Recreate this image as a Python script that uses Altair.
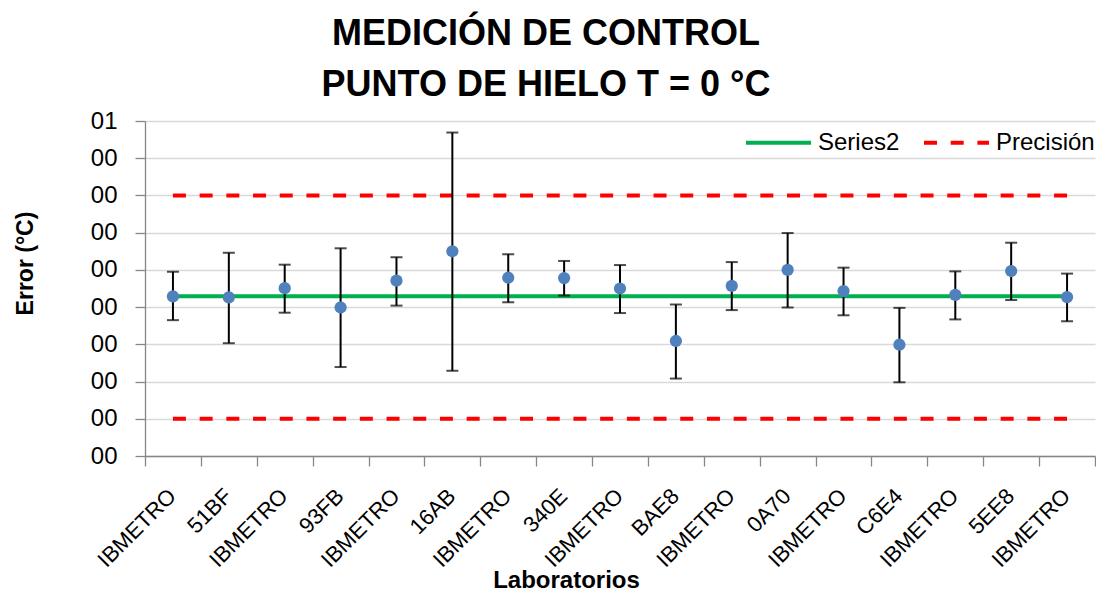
import json
import altair as alt
import pandas as pd

# ---- data ----
LABS = ["IBMETRO", "51BF", "IBMETRO", "93FB", "IBMETRO", "16AB", "IBMETRO", "340E",
        "IBMETRO", "BAE8", "IBMETRO", "0A70", "IBMETRO", "C6E4", "IBMETRO", "5EE8", "IBMETRO"]
ERROR = [0.0029, 0.0026, 0.0051, -0.0001, 0.0071, 0.0150, 0.0079, 0.0078, 0.0050,
         -0.0091, 0.0057, 0.0100, 0.0043, -0.0101, 0.0033, 0.0097, 0.0027]
UPPER = [0.0095, 0.0146, 0.0114, 0.0158, 0.0134, 0.0469, 0.0142, 0.0124, 0.0113,
         0.0007, 0.0121, 0.0199, 0.0106, -0.0002, 0.0096, 0.0173, 0.0090]
LOWER = [-0.0035, -0.0097, -0.0015, -0.0161, 0.0004, -0.0171, 0.0013, 0.0031, -0.0016,
         -0.0192, -0.0008, -0.0001, -0.0022, -0.0202, -0.0033, 0.0019, -0.0038]
MEAN_ERROR = 0.0029
PRECISION = 0.03
Y_TICKS = [-0.04, -0.03, -0.02, -0.01, 0.0, 0.01, 0.02, 0.03, 0.04, 0.05]
Y_TICK_LABELS = ["00", "00", "00", "00", "00", "00", "00", "00", "00", "01"]
SERIES_NAMES = ["Series2", "Precisión"]
SERIES_COLORS = ["#00b050", "#ff0000"]

n = len(LABS)
pts = pd.DataFrame({"idx": list(range(n)), "lab": LABS, "error": ERROR,
                    "upper": UPPER, "lower": LOWER})

rows = []
for grp, serie, val in [("s2", "Series2", MEAN_ERROR),
                        ("p_sup", "Precisión", PRECISION),
                        ("p_inf", "Precisión", -PRECISION)]:
    for i in (0, n - 1):
        rows.append({"idx": i, "v": val, "serie": serie, "grp": grp})
lines = pd.DataFrame(rows)

FONT = "Liberation Sans"
W, H = 950, 335

x_labels_js = json.dumps(LABS + [""])
y_labels_js = json.dumps(Y_TICK_LABELS)

x_axis = alt.Axis(
    values=[i - 0.5 for i in range(n + 1)],
    labelExpr=f"{x_labels_js}[round(datum.value + 0.5)]",
    labelOffset=W / n / 2 - 8,
    labelAngle=-45, labelAlign="right", labelBaseline="top",
    labelFont=FONT, labelFontSize=22, labelColor="black",
    labelPadding=19, labelOverlap=False, labelBound=False, labelFlush=False,
    tickSize=10, tickColor="#868686", domainColor="#868686", tickWidth=1.3, domainWidth=1.3,
    grid=False,
    title="Laboratorios", titleFont=FONT, titleFontSize=24, titleFontWeight="bold",
    titleColor="black", titleX=421, titleY=131, titleAlign="center",
    titleBaseline="alphabetic",
)
y_axis = alt.Axis(
    values=Y_TICKS,
    labelExpr=f"{y_labels_js}[round((datum.value + 0.04) * 100)]",
    labelFont=FONT, labelFontSize=24, labelColor="black", labelPadding=18,
    tickSize=10, tickColor="#868686", domainColor="#868686", tickWidth=1.3, domainWidth=1.3,
    grid=True, gridColor="#d9d9d9", gridWidth=1.3,
    title="Error (°C)", titleFont=FONT, titleFontSize=23, titleFontWeight="bold",
    titleColor="black", titleX=-120, titleY=142, titleAlign="center",
    titleBaseline="middle", titleAngle=-90,
)

xs = alt.Scale(domain=[-0.5, n - 0.5], nice=False, zero=False)
ys = alt.Scale(domain=[-0.04, 0.05], nice=False, zero=False)

X = alt.X("idx:Q", scale=xs, axis=x_axis)

legend = alt.Legend(
    title=None, orient="none", legendX=599, legendY=-13, direction="horizontal",
    symbolType="stroke", symbolSize=4225, symbolStrokeWidth=4,
    labelFont=FONT, labelFontSize=24, labelColor="black", labelOffset=5,
    columnPadding=16,
)

line_layer = alt.Chart(lines).mark_line(strokeWidth=4).encode(
    x=X,
    y=alt.Y("v:Q", scale=ys, axis=y_axis),
    color=alt.Color("serie:N", scale=alt.Scale(domain=SERIES_NAMES, range=SERIES_COLORS),
                    legend=legend),
    strokeDash=alt.StrokeDash("serie:N",
                              scale=alt.Scale(domain=SERIES_NAMES, range=[[1, 0], [13, 13.7]]),
                              legend=legend),
    detail="grp:N",
)

rule_layer = alt.Chart(pts).mark_rule(color="black", strokeWidth=2).encode(
    x=X,
    y=alt.Y("upper:Q", scale=ys, axis=y_axis),
    y2="lower:Q",
)
cap_top = alt.Chart(pts).mark_tick(orient="horizontal", size=12, thickness=2,
                                   color="black").encode(
    x=X, y=alt.Y("upper:Q", scale=ys, axis=y_axis))
cap_bot = alt.Chart(pts).mark_tick(orient="horizontal", size=12, thickness=2,
                                   color="black").encode(
    x=X, y=alt.Y("lower:Q", scale=ys, axis=y_axis))

point_layer = alt.Chart(pts).mark_point(filled=True, size=150, opacity=1,
                                        color="#4f81bd").encode(
    x=X, y=alt.Y("error:Q", scale=ys, axis=y_axis))

chart = alt.layer(line_layer, rule_layer, cap_top, cap_bot, point_layer).properties(
    width=W, height=H,
    padding={"left": 137, "top": 113, "right": 1, "bottom": 136},
    autosize=alt.AutoSizeParams(type="none"),
    background="white",
    title=alt.TitleParams(
        ["MEDICIÓN DE CONTROL", "PUNTO DE HIELO  T = 0 °C"],
        font=FONT, fontSize=36, fontWeight="bold", color="black",
        anchor="middle", dx=-74, offset=4, lineHeight=51,
    ),
).configure_view(stroke=None)

chart.save("out.html", embed_options={"renderer": "svg", "actions": False})
